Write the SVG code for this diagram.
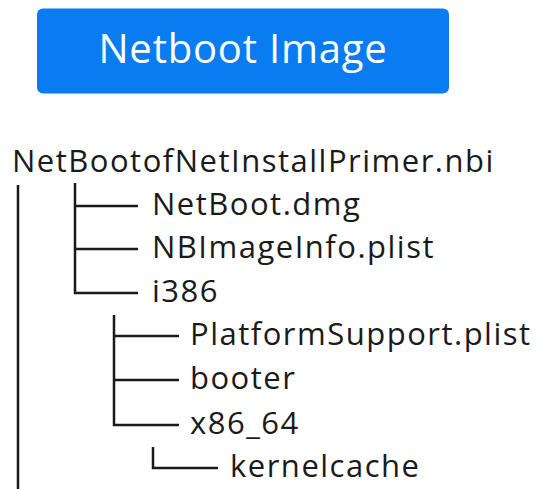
<svg xmlns="http://www.w3.org/2000/svg" width="540" height="489" viewBox="0 0 540 489">
<style>
.t{font-family:"Open Sans","Noto Sans","DejaVu Sans",sans-serif;font-size:31px;letter-spacing:1.5px;fill:#1a1a1a}
.h{font-family:"Open Sans","Noto Sans","DejaVu Sans",sans-serif;font-size:40px;letter-spacing:0.8px;fill:#ffffff}
.c{fill:none;stroke:#1a1a1a;stroke-width:2.5}
</style>
<rect width="540" height="489" fill="#ffffff"/>
<g id="header">
<rect x="37" y="8.5" width="412" height="85" rx="6" fill="#087cf0"/>
<text class="h" x="243" y="63" text-anchor="middle">Netboot Image</text>
</g>
<g id="connectors">
<path class="c" d="M18 185V489"/>
<path class="c" d="M75 183V293H138M75 206H138M75 249H138"/>
<path class="c" d="M114 315V425H179M114 336H179M114 380H179"/>
<path class="c" d="M153 447V468H218"/>
</g>
<g id="root"><text class="t" x="12" y="172">NetBootofNetInstallPrimer.nbi</text></g>
<g id="netboot-dmg"><text class="t" x="152" y="215">NetBoot.dmg</text></g>
<g id="nbimageinfo"><text class="t" x="152" y="258">NBImageInfo.plist</text></g>
<g id="i386"><text class="t" x="152" y="302">i386</text></g>
<g id="platformsupport"><text class="t" x="190" y="345">PlatformSupport.plist</text></g>
<g id="booter"><text class="t" x="190" y="389">booter</text></g>
<g id="x86_64"><text class="t" x="190" y="434">x86_64</text></g>
<g id="kernelcache"><text class="t" x="230" y="477">kernelcache</text></g>
</svg>
